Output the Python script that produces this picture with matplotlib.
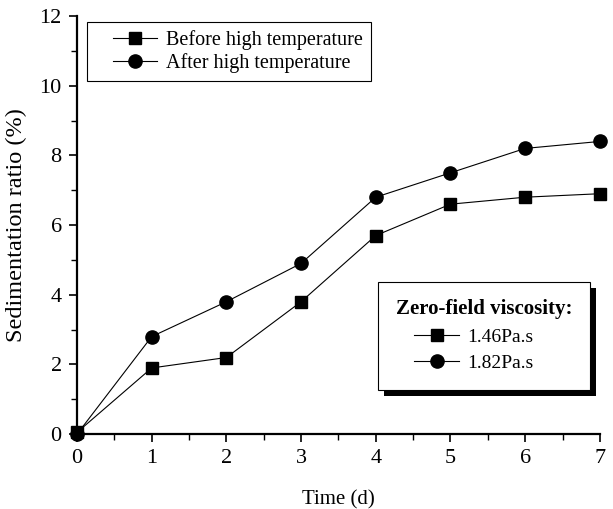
import matplotlib
matplotlib.use("Agg")
import matplotlib.pyplot as plt
from matplotlib.patches import Rectangle
from matplotlib.lines import Line2D
from matplotlib.legend_handler import HandlerLine2D

plt.rcParams['font.family'] = ['Liberation Serif', 'DejaVu Serif']

dias = [0, 1, 2, 3, 4, 5, 6, 7]
antes = [0.05, 1.9, 2.2, 3.8, 5.7, 6.6, 6.8, 6.9]
despues = [0, 2.8, 3.8, 4.9, 6.8, 7.5, 8.2, 8.4]

etiqueta_antes = "Before high temperature"
etiqueta_despues = "After high temperature"
titulo_viscosidad = "Zero-field viscosity:"
visc_antes = "1.46Pa.s"
visc_despues = "1.82Pa.s"

fig = plt.figure(figsize=(6.13, 5.09), dpi=100)
ax = fig.add_axes([0.1256, 0.147, 0.853, 0.8216])

l1, = ax.plot(dias, antes, color='black', lw=0.8, marker='s', ms=8.5, clip_on=False, zorder=3)
l2, = ax.plot(dias, despues, color='black', lw=0.8, marker='o', ms=9.5, clip_on=False, zorder=3)

ax.set_xlim(0, 7)
ax.set_ylim(0, 12)
ax.set_xticks(range(0, 8))
ax.set_xticks([x + 0.5 for x in range(0, 7)], minor=True)
ax.set_yticks(range(0, 13, 2))
ax.set_yticks(range(1, 12, 2), minor=True)
ax.spines['top'].set_visible(False)
ax.spines['right'].set_visible(False)
ax.spines['left'].set_linewidth(1.6)
ax.spines['bottom'].set_linewidth(1.6)
ax.tick_params(which='major', direction='out', length=6, width=1.2, labelsize=16, pad=5)
ax.tick_params(which='minor', direction='out', length=4, width=1.0)
ax.set_xlabel("Time (d)", fontsize=15, labelpad=16)
ax.set_ylabel("Sedimentation ratio (%)", fontsize=17.5, labelpad=9)

manejador = HandlerLine2D(xpad=0.9)

ley1 = ax.legend([l1, l2], [etiqueta_antes, etiqueta_despues], loc='upper left',
                 bbox_to_anchor=(0.019, 0.986), fontsize=14.5, frameon=True, fancybox=False,
                 edgecolor='black', framealpha=1, handlelength=3.1, handletextpad=0.45,
                 borderpad=0.4, labelspacing=0.15, borderaxespad=0,
                 handler_map={l1: manejador, l2: manejador})
ley1.get_frame().set_linewidth(0.8)
ax.add_artist(ley1)

h1 = Line2D([], [], color='black', lw=0.8, marker='s', ms=8.5)
h2 = Line2D([], [], color='black', lw=0.8, marker='o', ms=9.5)
manejador2 = HandlerLine2D(xpad=0.95)
ley2 = ax.legend([h1, h2], [visc_antes, visc_despues], title=titulo_viscosidad,
                 loc='upper left', bbox_to_anchor=(0.576, 0.364), fontsize=14,
                 title_fontproperties={'size': 15, 'weight': 'bold', 'family': 'Liberation Serif'},
                 frameon=True, fancybox=False, edgecolor='black', framealpha=1,
                 handlelength=3.25, handletextpad=0.45, borderpad=0.9, labelspacing=0.45,
                 borderaxespad=0, alignment='left',
                 handler_map={h1: manejador2, h2: manejador2})
ley2.get_frame().set_linewidth(0.8)
ley2.set_zorder(6)

# sombra negra desplazada detras de la segunda leyenda
fig.canvas.draw()
bb = ley2.get_window_extent()
inv = ax.transAxes.inverted()
(x0, y0) = inv.transform((bb.x0 + 6, bb.y0 - 6))
(x1, y1) = inv.transform((bb.x1 + 6, bb.y1 - 6))
sombra = Rectangle((x0, y0), x1 - x0, y1 - y0, transform=ax.transAxes,
                   facecolor='black', edgecolor='none', zorder=5.5, clip_on=False)
ax.add_patch(sombra)

fig.savefig("out.png", dpi=100)
plt.close()
